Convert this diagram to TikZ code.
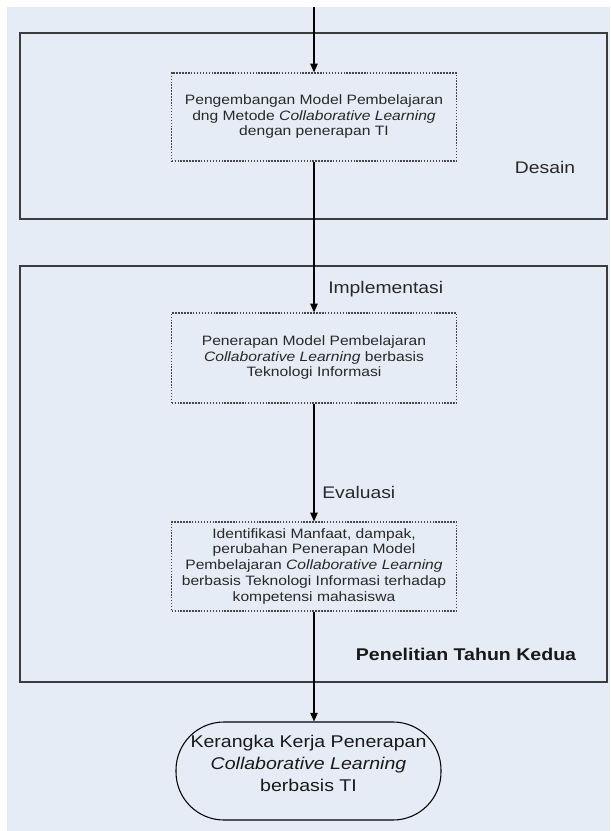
\documentclass[tikz,border=0pt]{standalone}
\usepackage{fontspec}
\setmainfont{Liberation Sans}
\usepackage{graphicx}
\usetikzlibrary{arrows.meta,calc}
\definecolor{bgblue}{RGB}{230,236,246}
\definecolor{framegray}{RGB}{60,60,60}
\definecolor{dotgray}{RGB}{70,70,70}
\definecolor{txtgray}{RGB}{40,40,40}
\newcommand\wtext[1]{\scalebox{1.15}[1]{\begin{tabular}{@{}c@{}}#1\end{tabular}}}
\newcommand\wide[1]{\scalebox{1.15}[1]{#1}}
\tikzset{
  outerbox/.style={draw=framegray, line width=1.4pt},
  dotbox/.style={draw=dotgray, line width=0.9pt, dash pattern=on 1.1pt off 1.1pt,
    inner sep=0pt, minimum width=213.5pt, font=\fontsize{10.2pt}{11.8pt}\selectfont, text=txtgray},
  lbl/.style={inner sep=0pt, font=\fontsize{12.6pt}{15pt}\selectfont, text=txtgray},
  arr/.style={draw=black, line width=1pt, -{Triangle[length=6.5pt,width=5.5pt]}},
  endshape/.style={draw=black, line width=0.8pt, rounded corners=36pt,
    minimum width=198.75pt, minimum height=73.5pt},
}
\begin{document}
\begin{tikzpicture}[x=0.75pt,y=-0.75pt]
\useasboundingbox (0,0) rectangle (610,831);
\fill[white] (0,0) rectangle (610,831);
\fill[bgblue] (7,7) rectangle (610,831);
% containers
\draw[outerbox] (20,33) rectangle (607,219);
\draw[outerbox] (20,266) rectangle (607,682);
% nodes
\coordinate (start) at (314,7);
\node[dotbox, minimum height=66pt] (b1) at (314,117)
  {\wtext{Pengembangan Model Pembelajaran\\ dng Metode \textit{Collaborative Learning}\\ dengan penerapan TI}};
\node[dotbox, minimum height=67.5pt] (b2) at (314,358)
  {\wtext{Penerapan Model Pembelajaran\\ \textit{Collaborative Learning} berbasis\\ Teknologi Informasi}};
\node[dotbox, minimum height=66.75pt] (b3) at (314,566.5)
  {\wtext{Identifikasi Manfaat, dampak,\\ perubahan Penerapan Model\\ Pembelajaran \textit{Collaborative Learning}\\ berbasis Teknologi Informasi terhadap\\ kompetensi mahasiswa}};
\node[endshape] (ell) at (308.5,771) {};
\node[inner sep=0pt, font=\fontsize{12.75pt}{16.3pt}\selectfont, text=black!90] (elltext) at (308.5,765)
  {\wtext{Kerangka Kerja Penerapan\\ \textit{Collaborative Learning}\\ berbasis TI}};
% labels
\node[lbl, anchor=base] (desain) at (545,173) {\wide{Desain}};
\node[lbl, anchor=base west] (impl) at (328,293) {\wide{Implementasi}};
\node[lbl, anchor=base west] (eval) at (322,498) {\wide{Evaluasi}};
\node[lbl, anchor=base, font=\fontsize{12.75pt}{15pt}\selectfont\bfseries, text=black!90] (tahun) at (466,660) {\wide{Penelitian Tahun Kedua}};
% connectors
\draw[arr] (start) -- (b1.north);
\draw[arr] (b1.south) -- (b2.north);
\draw[arr] (b2.south) -- (b3.north);
\draw[arr] (b3.south) -- (b3.south |- ell.north);
\end{tikzpicture}
\end{document}
